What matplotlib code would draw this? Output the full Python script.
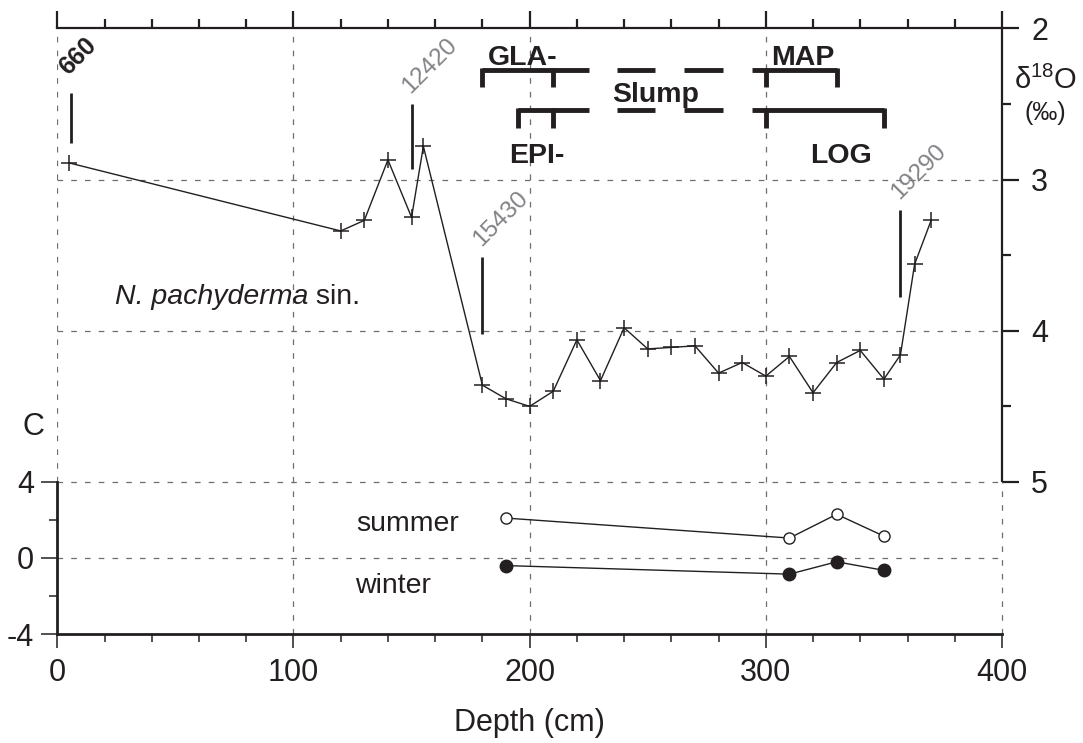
import numpy as np
import matplotlib.pyplot as plt
from matplotlib.ticker import MultipleLocator

plt.rcParams['font.family'] = ['Liberation Sans', 'DejaVu Sans']
plt.rcParams['mathtext.fontset'] = 'custom'
plt.rcParams['mathtext.rm'] = 'Liberation Sans'
plt.rcParams['mathtext.it'] = 'Liberation Sans:italic'
plt.rcParams['mathtext.bf'] = 'Liberation Sans:bold'
plt.rcParams['mathtext.default'] = 'regular'
plt.rcParams['axes.unicode_minus'] = False

INK = '#231f20'
GRID = '#6d6e71'

# d18O record, N. pachyderma sin.
depth = [5, 120, 130, 140, 150, 155, 180, 190, 200, 210, 220, 230, 240, 250,
         260, 270, 280, 290, 300, 310, 320, 330, 340, 350, 357, 363, 370]
d18o = [2.89, 3.34, 3.27, 2.87, 3.25, 2.78, 4.36, 4.45, 4.50, 4.40, 4.06, 4.33,
        3.98, 4.12, 4.11, 4.10, 4.28, 4.21, 4.30, 4.17, 4.41, 4.21, 4.13, 4.32,
        4.16, 3.56, 3.27]

# temperature estimates
t_depth = [190, 310, 330, 350]
summer = [2.1, 1.05, 2.3, 1.15]
winter = [-0.4, -0.85, -0.2, -0.65]

# radiocarbon ages
ages = ['660', '12420', '15430', '19290']
age_depth = [6, 150, 180, 357]
age_top = [2.43, 2.50, 3.51, 3.20]
age_bot = [2.76, 2.93, 4.02, 3.78]

# stratigraphic brackets
upper_segs = [(180, 225), (237, 253), (265.5, 282), (294, 330)]
upper_ticks = [180, 210, 300, 330]
lower_segs = [(195, 225), (237, 253), (265.5, 282), (294, 350)]
lower_ticks = [195, 210, 300, 350]

fig = plt.figure(figsize=(10.83, 7.43), dpi=100)
ax1 = fig.add_axes([0.0529, 0.3513, 0.8723, 0.6106])
ax2 = fig.add_axes([0.0529, 0.1467, 0.8723, 0.2046])

dash = (0, (4.5, 6.5))

# ---- upper panel
ax1.set_xlim(0, 400)
ax1.set_ylim(5, 2)
for s in ['left', 'bottom']:
    ax1.spines[s].set_visible(False)
for s in ['top', 'right']:
    ax1.spines[s].set_linewidth(1.6)
    ax1.spines[s].set_color(INK)
ax1.xaxis.tick_top()
ax1.yaxis.tick_right()
ax1.xaxis.set_major_locator(MultipleLocator(100))
ax1.xaxis.set_minor_locator(MultipleLocator(20))
ax1.yaxis.set_major_locator(MultipleLocator(1))
ax1.yaxis.set_minor_locator(MultipleLocator(0.5))
ax1.tick_params(axis='x', which='both', direction='out', labeltop=False,
                color=INK, width=1.6)
ax1.tick_params(axis='x', which='major', length=12)
ax1.tick_params(axis='x', which='minor', length=6.5)
ax1.tick_params(axis='y', which='both', direction='out', color=INK, width=1.6,
                labelsize=22, labelcolor=INK, pad=9)
ax1.tick_params(axis='y', which='major', length=12)
ax1.tick_params(axis='y', which='minor', length=6.5)

for xv in [0, 100, 200, 300]:
    ax1.axvline(xv, color=GRID, lw=0.9, ls=dash, zorder=0)
for yv in [3, 4]:
    ax1.axhline(yv, color=GRID, lw=0.9, ls=dash, zorder=0)

ax1.plot(depth, d18o, color=INK, lw=1, marker='+', ms=11, mew=1.1)

for lab, xd, yt, yb in zip(ages, age_depth, age_top, age_bot):
    ax1.plot([xd, xd], [yt, yb], color=INK, lw=2, solid_capstyle='butt')
    if lab == '660':
        ax1.text(xd - 7, yt - 0.09, lab, rotation=45, ha='left', va='bottom',
                 fontsize=18, fontweight='bold', color=INK)
    else:
        ax1.text(xd - 5.5, yt - 0.04, lab, rotation=45, ha='left', va='bottom',
                 fontsize=17.5, color='#808285', clip_on=False)

def bracket_row(segs, ticks, y, y_tick):
    for a, b in segs:
        ax1.plot([a, b], [y, y], color=INK, lw=3.5, solid_capstyle='butt')
    for t in ticks:
        ax1.plot([t, t], [y - 0.012, y_tick], color=INK, lw=3.5,
                 solid_capstyle='butt')

bracket_row(upper_segs, upper_ticks, 2.276, 2.389)
bracket_row(lower_segs, lower_ticks, 2.541, 2.66)

bold = dict(fontsize=20.5, fontweight='bold', color=INK, ha='center', va='baseline')
ax1.text(197.2, 2.243, 'GLA-', **bold)
ax1.text(315.7, 2.243, 'MAP', **bold)
ax1.text(253.5, 2.486, 'Slump', **bold)
ax1.text(203.1, 2.893, 'EPI-', **bold)
ax1.text(331.8, 2.893, 'LOG', **bold)

sp = ax1.text(24.4, 3.78, 'N. pachyderma', fontsize=20.5, style='italic',
              color=INK, ha='left', va='center')
ax1.annotate(' sin.', xy=(1, 0), xycoords=sp, fontsize=20.5, color=INK,
             ha='left', va='bottom')

ax1.text(418.6, 2.345, r'δ$^{18}$O', fontsize=21, color=INK,
         ha='center', va='center', clip_on=False)
ax1.text(418.2, 2.56, '(‰)', fontsize=18, color=INK,
         ha='center', va='center', clip_on=False)

# ---- lower panel
ax2.set_xlim(0, 400)
ax2.set_ylim(-4, 4)
for s in ['top', 'right']:
    ax2.spines[s].set_visible(False)
for s in ['left', 'bottom']:
    ax2.spines[s].set_linewidth(2)
    ax2.spines[s].set_color(INK)
ax2.xaxis.set_major_locator(MultipleLocator(100))
ax2.xaxis.set_minor_locator(MultipleLocator(20))
ax2.yaxis.set_major_locator(MultipleLocator(4))
ax2.yaxis.set_minor_locator(MultipleLocator(2))
ax2.tick_params(axis='both', which='both', direction='out', color=INK,
                width=1.1, labelsize=22, labelcolor=INK)
ax2.tick_params(axis='x', which='major', length=10, pad=7)
ax2.tick_params(axis='x', which='minor', length=5.5)
ax2.tick_params(axis='y', which='major', length=11.5, pad=5)
ax2.tick_params(axis='y', which='minor', length=5.5)

for xv in [100, 200, 300, 400]:
    ax2.axvline(xv, color=GRID, lw=0.9, ls=dash, zorder=0, clip_on=False)
for yv in [4, 0]:
    ax2.axhline(yv, color=GRID, lw=0.9, ls=dash, zorder=0, clip_on=False)

ax2.plot(t_depth, summer, color=INK, lw=1, marker='o', ms=8, mfc='white',
         mec=INK, mew=1)
ax2.plot(t_depth, winter, color=INK, lw=1, marker='o', ms=9, mfc=INK,
         mec=INK)

ax2.text(126.5, 1.8, 'summer', fontsize=20.5, color=INK, ha='left', va='center')
ax2.text(126, -1.5, 'winter', fontsize=20.5, color=INK, ha='left', va='center')
ax2.text(-9.9, 6.9, 'C', fontsize=22, color=INK, ha='center', va='center',
         clip_on=False)

ax2.set_xlabel('Depth (cm)', fontsize=22, color=INK, labelpad=15)

fig.savefig('out.png', dpi=100)
